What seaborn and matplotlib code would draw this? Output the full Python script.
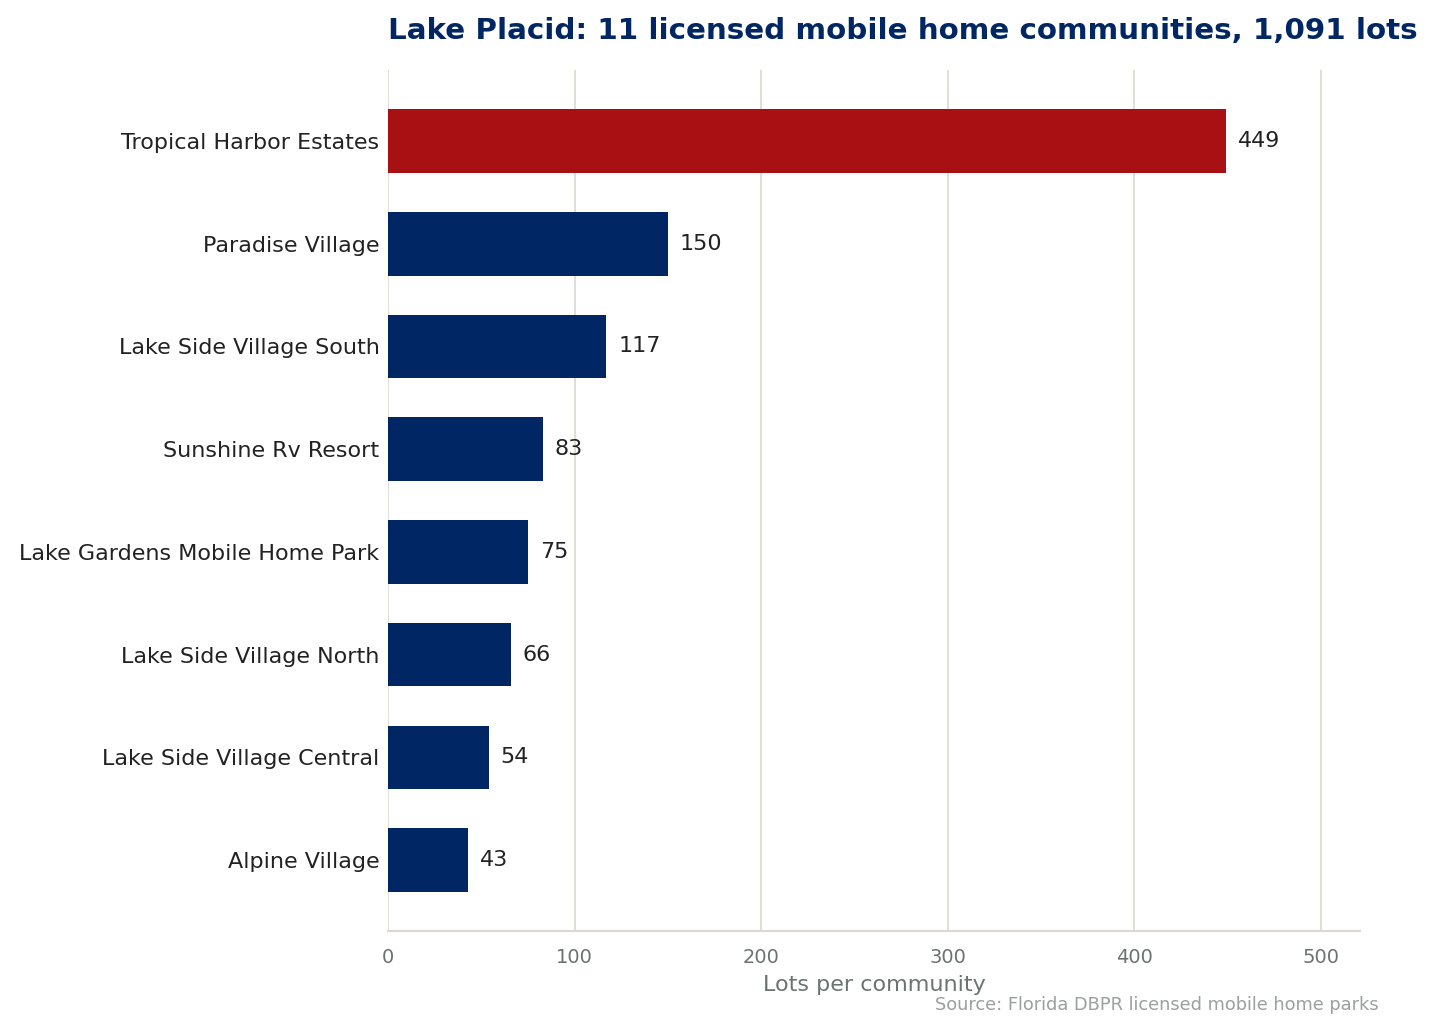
import matplotlib
matplotlib.use("Agg")
import matplotlib.pyplot as plt
import seaborn as sns
import pandas as pd

# communities and lots, biggest first
communities = [
    "Tropical Harbor Estates",
    "Paradise Village",
    "Lake Side Village South",
    "Sunshine Rv Resort",
    "Lake Gardens Mobile Home Park",
    "Lake Side Village North",
    "Lake Side Village Central",
    "Alpine Village",
]
lots = [449, 150, 117, 83, 75, 66, 54, 43]

NAVY = "#002664"
RED = "#a81014"
GRID = "#dcd8d0"

df = pd.DataFrame({"community": communities, "lots": lots})
colors = [RED if v == max(lots) else NAVY for v in lots]

sns.set_style("white")
plt.rcParams["font.family"] = ["DejaVu Sans"]

fig = plt.figure(figsize=(14.39, 10.30), dpi=100)
ax = fig.add_axes([0.2696, 0.0961, 0.6755, 0.8359])

sns.barplot(data=df, y="community", x="lots", hue="community", palette=colors,
            legend=False, width=0.62, saturation=1, linewidth=0, ax=ax, zorder=3)

n = len(communities)
ax.set_ylim(n - 1 + 0.69, -0.69)
ax.set_xlim(0, max(lots) * 1.16)

for i, v in enumerate(lots):
    ax.annotate(str(v), (v, i), xytext=(8.5, 0), textcoords="offset points",
                va="center", ha="left", fontsize=16, color="#222222")

ax.grid(axis="x", color=GRID, linewidth=1.2, zorder=0)
ax.set_axisbelow(True)
for side in ["top", "right", "left"]:
    ax.spines[side].set_visible(False)
ax.spines["bottom"].set_color(GRID)
ax.spines["bottom"].set_linewidth(1.5)

ax.tick_params(axis="x", colors="#6b7370", labelsize=14, length=5, width=1, pad=7)
ax.tick_params(axis="y", length=0, labelsize=16, labelcolor="#222222", pad=6)
ax.set_ylabel("")
ax.set_xlabel("Lots per community", fontsize=16, color="#6b7370", labelpad=6)

ax.set_title("Lake Placid: 11 licensed mobile home communities, 1,091 lots",
             loc="left", fontsize=21.2, fontweight="bold", color=NAVY, pad=22)

fig.text(0.958, 0.016, "Source: Florida DBPR licensed mobile home parks",
         ha="right", va="bottom", fontsize=12.8, color="#9aa09c")

fig.savefig("out.png", dpi=100)
